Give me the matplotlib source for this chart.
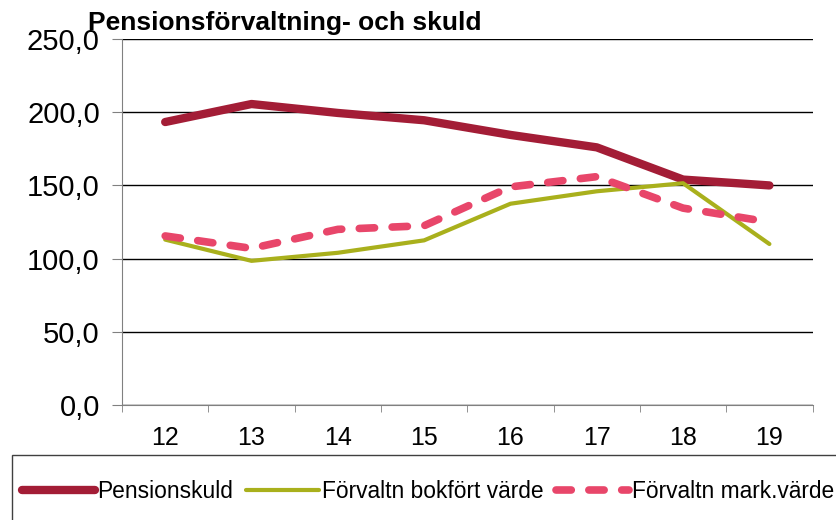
import numpy as np
import matplotlib.pyplot as plt
from matplotlib.patches import Rectangle
from matplotlib.ticker import FuncFormatter, FixedLocator

plt.rcParams['font.family'] = ['Liberation Sans', 'DejaVu Sans']

years = ["12", "13", "14", "15", "16", "17", "18", "19"]
pensionsskuld = [193.3, 205.6, 199.5, 194.5, 184.5, 176.0, 154.0, 150.0]
bokfort = [113.0, 98.5, 104.0, 112.5, 137.5, 146.0, 151.5, 110.0]
marknad = [115.5, 107.0, 120.0, 122.5, 149.0, 156.0, 134.5, 125.0]

fig = plt.figure(figsize=(8.37, 5.2), dpi=100)
ax = fig.add_axes([0.1458, 0.221, 0.825, 0.704])

x = np.arange(len(years))
ax.plot(x, pensionsskuld, color="#A31D36", lw=6, solid_capstyle="round", label="Pensionskuld")
ax.plot(x, bokfort, color="#A9B01C", lw=3, solid_capstyle="round", label="Förvaltn bokfört värde")
ax.plot(x, marknad, color="#E8466A", lw=5.5, dashes=(2.0, 2.3), dash_capstyle="round",
        label="Förvaltn mark.värde")

ax.set_xlim(-0.5, len(years) - 0.5)
ax.set_ylim(0, 250)
ax.set_yticks(np.arange(0, 251, 50))
ax.yaxis.set_major_formatter(FuncFormatter(lambda v, p: f"{v:.1f}".replace(".", ",")))
ax.grid(axis="y", color="black", lw=1)
ax.set_axisbelow(True)

ax.set_xticks(x)
ax.set_xticklabels(years)
ax.xaxis.set_minor_locator(FixedLocator(np.arange(-0.5, len(years), 1)))
ax.tick_params(axis="x", which="major", length=0, labelsize=18, pad=15)
ax.tick_params(axis="x", which="minor", length=5, color="#808080", direction="out")
ax.tick_params(axis="y", length=7, color="#808080", labelsize=21, pad=9)

for s in ["top", "right"]:
    ax.spines[s].set_visible(False)
ax.spines["left"].set_color("#808080")
ax.spines["bottom"].set_color("#808080")

fig.text(0.105, 0.955, "Pensionsförvaltning- och skuld", fontsize=19, fontweight="bold",
         va="center", ha="left")

# legend box runs off the bottom/right edge like in the original
fig.patches.append(Rectangle((12 / 837, -0.1), 1.0, (520 - 455) / 520 + 0.1,
                             transform=fig.transFigure, fill=False, edgecolor="#404040", lw=1))
leg = fig.legend(loc="center left", bbox_to_anchor=(0.026, 0.054), ncol=3, frameon=False,
                 fontsize=16.4, handlelength=3.2, handletextpad=0.13, columnspacing=0.55,
                 borderpad=0, borderaxespad=0)

fig.savefig("out.png", dpi=100)
